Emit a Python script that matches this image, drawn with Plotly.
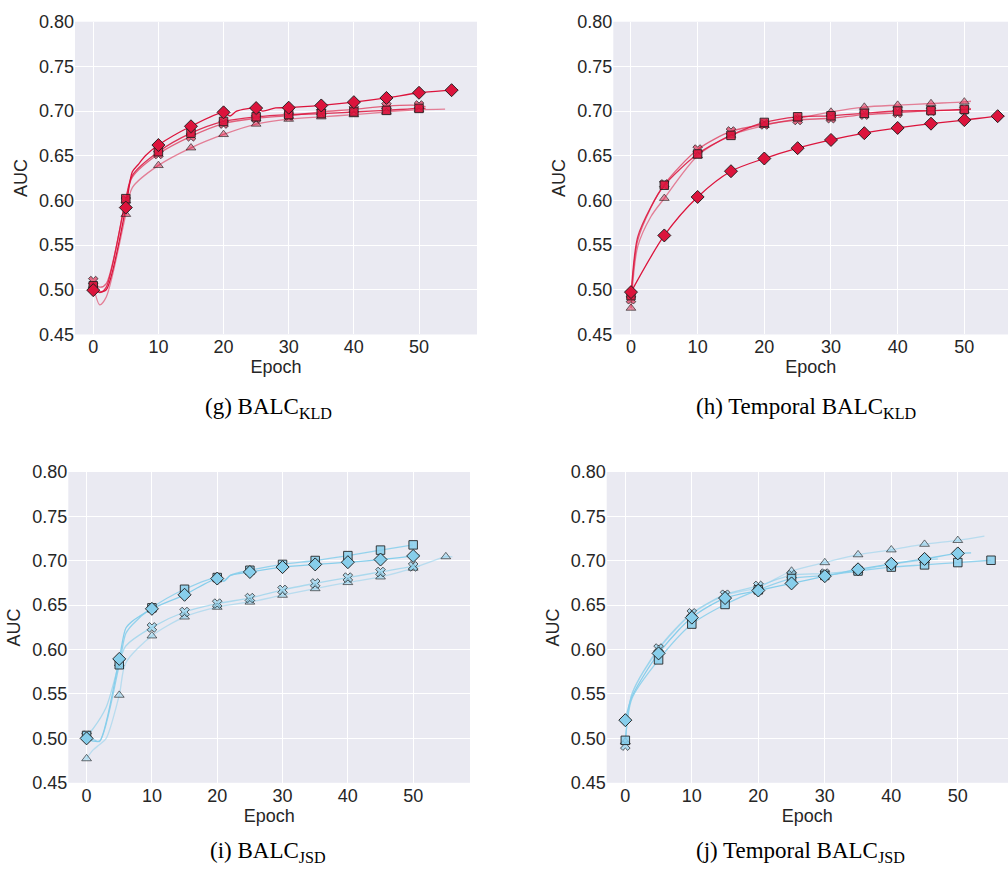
import plotly.graph_objects as go

# ---------------- data ----------------
# Panel (g) BALC_KLD
g_d_x = [0, 1, 2, 5, 6, 7, 8, 10, 15, 20, 21, 22, 25, 26, 28, 30, 35, 40, 45, 50, 55, 56]
g_d_y = [0.4996, 0.4975, 0.500, 0.592, 0.632, 0.641, 0.650, 0.662, 0.683, 0.6986, 0.6945, 0.700, 0.7034, 0.700,
         0.7035, 0.7038, 0.7063, 0.710, 0.7147, 0.7205, 0.7234, 0.724]
g_s_x = [0, 1, 2, 5, 6, 10, 15, 20, 25, 30, 35, 40, 45, 50, 51]
g_s_y = [0.5044, 0.497, 0.503, 0.602, 0.628, 0.6545, 0.6753, 0.6884, 0.6936, 0.6961, 0.6972, 0.699, 0.7008, 0.703, 0.703]
g_x_x = [0, 1, 2, 5, 6, 10, 15, 20, 25, 30, 35, 40, 45, 50, 51]
g_x_y = [0.5098, 0.503, 0.507, 0.600, 0.626, 0.652, 0.6717, 0.686, 0.692, 0.695, 0.699, 0.702, 0.7056, 0.7063, 0.705]
g_t_x = [0, 1, 2, 5, 6, 10, 15, 20, 25, 30, 35, 40, 45, 50, 54]
g_t_y = [0.505, 0.4832, 0.492, 0.5845, 0.6144, 0.6392, 0.6589, 0.6739, 0.6855, 0.691, 0.6936, 0.696, 0.699, 0.7016, 0.7023]

# Panel (h) Temporal BALC_KLD
h_d_x = [0, 5, 10, 15, 20, 25, 30, 35, 40, 45, 50, 55, 56]
h_d_y = [0.4974, 0.5608, 0.6039, 0.6327, 0.6469, 0.6585, 0.6677, 0.6753, 0.6811, 0.6859, 0.6899, 0.6943, 0.6945]
h_s_x = [0, 1, 3, 5, 10, 15, 20, 25, 30, 35, 40, 45, 50, 51]
h_s_y = [0.4934, 0.559, 0.593, 0.617, 0.652, 0.6728, 0.6873, 0.6936, 0.6947, 0.6975, 0.7001, 0.7005, 0.7019, 0.7025]
h_x_x = [0, 1, 3, 5, 10, 15, 20, 25, 30, 35, 40, 45, 50, 51]
h_x_y = [0.4894, 0.555, 0.592, 0.618, 0.657, 0.6772, 0.685, 0.690, 0.692, 0.696, 0.698, 0.7005, 0.7015, 0.702]
h_t_x = [0, 1, 3, 5, 10, 15, 20, 25, 30, 35, 40, 45, 50, 51]
h_t_y = [0.4795, 0.548, 0.582, 0.6024, 0.650, 0.673, 0.684, 0.6915, 0.699, 0.7045, 0.7067, 0.7085, 0.7103, 0.711]

# Panel (i) BALC_JSD
i_d_x = [0, 1, 2, 5, 6, 7, 8, 10, 15, 20, 21, 22, 25, 30, 35, 40, 45, 50, 51]
i_d_y = [0.500, 0.497, 0.497, 0.5895, 0.624, 0.632, 0.637, 0.6459, 0.6617, 0.680, 0.677, 0.6835, 0.6874, 0.6929,
         0.6959, 0.6984, 0.7014, 0.7054, 0.707]
i_s_x = [0, 1, 2, 5, 6, 7, 10, 15, 20, 21, 22, 25, 30, 35, 40, 45, 50]
i_s_y = [0.5033, 0.499, 0.4965, 0.5829, 0.618, 0.628, 0.647, 0.6679, 0.6811, 0.677, 0.6835, 0.6893, 0.6959, 0.7003,
         0.7058, 0.712, 0.7179]
i_x_x = [0, 1, 3, 5, 6, 10, 15, 20, 25, 30, 35, 40, 45, 50, 51]
i_x_y = [0.503, 0.511, 0.535, 0.585, 0.604, 0.625, 0.6423, 0.6518, 0.658, 0.6672, 0.6745, 0.6811, 0.6874, 0.6937, 0.694]
i_t_x = [0, 1, 2, 3, 5, 6, 10, 15, 20, 25, 30, 35, 40, 45, 50, 55, 56]
i_t_y = [0.4772, 0.487, 0.493, 0.500, 0.5487, 0.585, 0.6155, 0.6368, 0.6478, 0.6536, 0.6613, 0.6687, 0.6756, 0.6819,
         0.6918, 0.7047, 0.7045]

# Panel (j) Temporal BALC_JSD
j_d_x = [0, 1, 5, 10, 15, 20, 25, 30, 35, 40, 45, 50, 52]
j_d_y = [0.5205, 0.547, 0.5957, 0.636, 0.658, 0.6665, 0.6745, 0.6827, 0.6904, 0.6966, 0.7021, 0.7083, 0.709]
j_s_x = [0, 1, 5, 10, 15, 20, 25, 30, 35, 40, 45, 50, 55]
j_s_y = [0.4978, 0.545, 0.5884, 0.6287, 0.6508, 0.6673, 0.680, 0.6835, 0.6885, 0.6929, 0.6954, 0.698, 0.7006]
j_x_x = [0, 1, 5, 10, 15, 20, 25, 30, 35, 40, 45, 47]
j_x_y = [0.4918, 0.550, 0.6012, 0.6408, 0.6618, 0.6717, 0.6838, 0.6856, 0.6895, 0.696, 0.701, 0.702]
j_t_x = [0, 1, 5, 10, 15, 20, 25, 30, 35, 40, 45, 50, 54]
j_t_y = [0.496, 0.550, 0.600, 0.640, 0.661, 0.670, 0.6885, 0.698, 0.7069, 0.7124, 0.7187, 0.723, 0.7278]

y_ticks = [0.45, 0.50, 0.55, 0.60, 0.65, 0.70, 0.75, 0.80]
x_ticks = [0, 10, 20, 30, 40, 50]
captions = ["(g) BALC<sub>KLD</sub>", "(h) Temporal BALC<sub>KLD</sub>",
            "(i) BALC<sub>JSD</sub>", "(j) Temporal BALC<sub>JSD</sub>"]

# ---------------- style ----------------
RED = (220, 20, 60)
BLUE = (135, 206, 235)
symbols = {"d": "diamond", "s": "square", "x": "x", "t": "triangle-up"}
sizes = {"d": 10, "s": 8.5, "x": 8.5, "t": 8.5}
alphas = {"d": 1.0, "s": 0.85, "x": 0.6, "t": 0.45}
order = ["t", "x", "s", "d"]

panels = [
    ("x", "y", RED, {"d": (g_d_x, g_d_y), "s": (g_s_x, g_s_y), "x": (g_x_x, g_x_y), "t": (g_t_x, g_t_y)}),
    ("x2", "y2", RED, {"d": (h_d_x, h_d_y), "s": (h_s_x, h_s_y), "x": (h_x_x, h_x_y), "t": (h_t_x, h_t_y)}),
    ("x3", "y3", BLUE, {"d": (i_d_x, i_d_y), "s": (i_s_x, i_s_y), "x": (i_x_x, i_x_y), "t": (i_t_x, i_t_y)}),
    ("x4", "y4", BLUE, {"d": (j_d_x, j_d_y), "s": (j_s_x, j_s_y), "x": (j_x_x, j_x_y), "t": (j_t_x, j_t_y)}),
]


def rgba(c, a):
    return f"rgba({c[0]},{c[1]},{c[2]},{a})"


fig = go.Figure()
for xa, ya, col, series in panels:
    for key in order:
        xs, ys = series[key]
        a = alphas[key]
        fig.add_trace(go.Scatter(
            x=xs, y=ys, xaxis=xa, yaxis=ya, mode="lines",
            line=dict(color=rgba(col, 0.9 * a + 0.1), width=1.3, shape="spline", smoothing=0.8),
            hoverinfo="skip", showlegend=False))
    for key in order:
        xs, ys = series[key]
        a = alphas[key]
        mx = [x for x in xs if x % 5 == 0]
        my = [y for x, y in zip(xs, ys) if x % 5 == 0]
        fig.add_trace(go.Scatter(
            x=mx, y=my, xaxis=xa, yaxis=ya, mode="markers",
            marker=dict(symbol=symbols[key], size=sizes[key], color=rgba(col, a),
                        line=dict(color=rgba((30, 30, 30), 0.35 + 0.6 * a), width=1)),
            showlegend=False))

W, H = 1008, 882
# plot-area pixel boxes: (left, right, top, bottom), x-ranges
boxes = [
    (75, 477, 12, 332, [-2.8, 58.9]),
    (613.3, 1008, 12, 332, [-2.65, 56.55]),
    (68.3, 470, 472.7, 790.7, [-2.8, 58.7]),
    (606.7, 1008, 472.7, 790.7, [-2.8, 57.55]),
]
font_ax = dict(family="Liberation Sans, Arial, sans-serif", size=18, color="#262626")
layout = {}
for k, (l, r, t, b, xr) in enumerate(boxes):
    sfx = "" if k == 0 else str(k + 1)
    layout["xaxis" + sfx] = dict(
        domain=[l / W, min(r / W, 1.0)], range=xr, anchor="y" + sfx,
        tickvals=x_ticks, showgrid=True, gridcolor="white", gridwidth=1.1, zeroline=False,
        showline=False, ticks="", tickfont=font_ax,
        title=dict(text="Epoch", font=font_ax, standoff=0))
    layout["yaxis" + sfx] = dict(
        domain=[1 - b / H, 1 - t / H], range=[0.45, 0.80], anchor="x" + sfx,
        tickvals=y_ticks, tickformat=".2f", showgrid=True, gridcolor="white", gridwidth=1.1,
        zeroline=False, showline=False, ticks="", tickfont=font_ax,
        title=dict(text="AUC", font=font_ax, standoff=6))

cap_pos = [(268, 407), (806, 407), (268, 862), (800, 862)]
annotations = []
for (cx, cy), txt in zip(cap_pos, captions):
    annotations.append(dict(
        text=txt, x=cx / W, y=1 - cy / H, xref="paper", yref="paper",
        xanchor="center", yanchor="middle", showarrow=False,
        font=dict(family="Liberation Serif, Times New Roman, serif", size=23, color="black")))

fig.update_layout(
    width=W, height=H, margin=dict(l=0, r=0, t=0, b=0),
    paper_bgcolor="white", plot_bgcolor="#EAEAF2",
    annotations=annotations, **layout)

fig.write_html("out.html")
